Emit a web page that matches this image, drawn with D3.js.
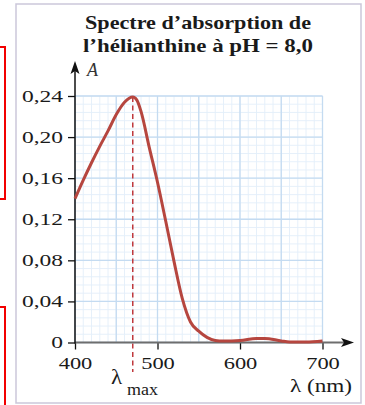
<!DOCTYPE html>
<html lang="fr">
<head>
    <meta charset="UTF-8">
    <title>Spectre d'absorption de l'hélianthine à pH = 8,0</title>
    <script src="https://d3js.org/d3.v7.min.js"></script>
    <style>
        body { margin: 0; background: #fff; }
        svg { display: block; font-family: "Liberation Serif", "Times New Roman", serif; }
    </style>
</head>
<body>
<svg id="chart" width="365" height="405"></svg>
<script>
    const wavelengths = [400, 410, 420, 430, 440, 450, 460, 470, 475, 480, 490, 500, 510, 520, 530, 540, 550, 560, 570, 580, 600, 620, 630, 650, 660, 680, 700];
    const absorbance = [0.140, 0.158, 0.175, 0.191, 0.206, 0.222, 0.234, 0.239, 0.236, 0.225, 0.190, 0.156, 0.118, 0.079, 0.043, 0.020, 0.011, 0.005, 0.002, 0.0015, 0.002, 0.004, 0.004, 0.0015, 0.0005, 0.0005, 0.0015];
    const xTicks = [400, 500, 600, 700];
    const yTicks = [0, 0.04, 0.08, 0.12, 0.16, 0.20, 0.24];
    const lambdaMax = 470;
    const titleLines = ["Spectre d’absorption de", "l’hélianthine à pH = 8,0"];

    const data = wavelengths.map((w, i) => ({ w: w, a: absorbance[i] }));

    const svg = d3.select("#chart");
    const x = d3.scaleLinear().domain([400, 700]).range([75, 322.5]);
    const y = d3.scaleLinear().domain([0, 0.24]).range([342.5, 96]);

    // stretch text horizontally (the original font is wider)
    function stretch(sel, k) {
        sel.each(function() {
            const len = this.getComputedTextLength();
            this.setAttribute("textLength", len * k);
            this.setAttribute("lengthAdjust", "spacingAndGlyphs");
        });
    }

    // red annotation frames on the left edge
    svg.append("rect").attr("x", -2).attr("y", 47).attr("width", 7).attr("height", 152)
        .attr("fill", "none").attr("stroke", "#f20000").attr("stroke-width", 2);
    svg.append("rect").attr("x", -2).attr("y", 307).attr("width", 7).attr("height", 110)
        .attr("fill", "none").attr("stroke", "#f20000").attr("stroke-width", 2);

    // cadre
    svg.append("rect").attr("x", 16).attr("y", 4).attr("width", 345).attr("height", 399)
        .attr("fill", "#fff").attr("stroke", "#cbc7da").attr("stroke-width", 1.5);

    // titre
    svg.selectAll(".title").data(titleLines).enter().append("text")
        .attr("class", "title")
        .attr("x", 198).attr("y", (d, i) => 28.5 + i * 23.5)
        .attr("text-anchor", "middle")
        .attr("font-size", 19).attr("font-weight", "bold").attr("fill", "#1a1a1a")
        .attr("textLength", (d, i) => i === 0 ? 226 : 230)
        .attr("lengthAdjust", "spacingAndGlyphs")
        .text(d => d);

    // grille
    const grid = svg.append("g");
    const minorX = d3.range(400, 701, 10);
    const minorY = d3.range(0, 31).map(i => i * 0.008);
    grid.selectAll(".mx").data(minorX).enter().append("line")
        .attr("x1", d => x(d)).attr("x2", d => x(d)).attr("y1", y(0)).attr("y2", y(0.24))
        .attr("stroke", "#e3eef9").attr("stroke-width", 0.9);
    grid.selectAll(".my").data(minorY).enter().append("line")
        .attr("x1", x(400)).attr("x2", x(700)).attr("y1", d => y(d)).attr("y2", d => y(d))
        .attr("stroke", "#e3eef9").attr("stroke-width", 0.9);
    grid.selectAll(".Mx").data(d3.range(400, 701, 50)).enter().append("line")
        .attr("x1", d => x(d)).attr("x2", d => x(d)).attr("y1", y(0)).attr("y2", y(0.24))
        .attr("stroke", "#c4dbf1").attr("stroke-width", 1.3);
    grid.selectAll(".My").data(yTicks).enter().append("line")
        .attr("x1", x(400)).attr("x2", x(700)).attr("y1", d => y(d)).attr("y2", d => y(d))
        .attr("stroke", "#c4dbf1").attr("stroke-width", 1.3);

    // lambda max en pointillés
    svg.append("line")
        .attr("x1", x(lambdaMax)).attr("x2", x(lambdaMax))
        .attr("y1", y(0.239)).attr("y2", 372)
        .attr("stroke", "#c0393d").attr("stroke-width", 1.5)
        .attr("stroke-dasharray", "5,3.5");

    // axe des abscisses
    const xAxis = svg.append("g")
        .attr("transform", `translate(0,${y(0)})`)
        .call(d3.axisBottom(x).tickValues(xTicks).tickSize(7).tickPadding(8));
    xAxis.select(".domain").remove();
    xAxis.selectAll(".tick line").attr("stroke", "#111").attr("stroke-width", 1.3);
    xAxis.selectAll(".tick text")
        .attr("y", 26.5).attr("dy", 0)
        .attr("font-family", "Liberation Serif, serif")
        .attr("font-size", 17).attr("fill", "#1a1a1a")
        .call(stretch, 1.32);
    svg.append("line")
        .attr("x1", x(400)).attr("x2", 346).attr("y1", y(0)).attr("y2", y(0))
        .attr("stroke", "#6e6e6e").attr("stroke-width", 2);
    svg.append("path")
        .attr("d", `M354,${y(0)} L341,${y(0) - 4.5} L344,${y(0)} L341,${y(0) + 4.5} Z`)
        .attr("fill", "#111");

    // axe des ordonnées
    const yAxis = svg.append("g")
        .attr("transform", `translate(${x(400)},0)`)
        .call(d3.axisLeft(y).tickValues(yTicks).tickSize(7).tickPadding(5)
            .tickFormat(d => d === 0 ? "0" : d3.format(".2f")(d).replace(".", ",")));
    yAxis.select(".domain").remove();
    yAxis.selectAll(".tick line").attr("stroke", "#111").attr("stroke-width", 1.3);
    yAxis.selectAll(".tick text")
        .attr("dy", "0.3em")
        .attr("font-family", "Liberation Serif, serif")
        .attr("font-size", 17).attr("fill", "#1a1a1a")
        .call(stretch, 1.38);
    svg.append("line")
        .attr("x1", x(400)).attr("x2", x(400)).attr("y1", y(0) + 1).attr("y2", 70)
        .attr("stroke", "#111").attr("stroke-width", 1.5);
    svg.append("path")
        .attr("d", `M${x(400)},61 L${x(400) - 4.5},74 L${x(400)},71 L${x(400) + 4.5},74 Z`)
        .attr("fill", "#111");

    // courbe
    const line = d3.line()
        .x(d => x(d.w))
        .y(d => y(d.a))
        .curve(d3.curveMonotoneX);
    svg.append("path")
        .datum(data)
        .attr("fill", "none")
        .attr("stroke", "#b6463f")
        .attr("stroke-width", 3)
        .attr("stroke-linejoin", "round")
        .attr("d", line);

    // libellés
    svg.append("text")
        .attr("x", 87).attr("y", 76)
        .attr("font-size", 18).attr("font-style", "italic").attr("fill", "#333")
        .text("A");

    svg.append("text")
        .attr("x", 111).attr("y", 384)
        .attr("font-size", 20).attr("fill", "#1a1a1a")
        .text("λ").call(stretch, 1.15);
    svg.append("text")
        .attr("x", 127).attr("y", 395)
        .attr("font-size", 16).attr("fill", "#1a1a1a")
        .attr("textLength", 31).attr("lengthAdjust", "spacingAndGlyphs")
        .text("max");

    svg.append("text")
        .attr("x", 352).attr("y", 392)
        .attr("text-anchor", "end")
        .attr("font-size", 18).attr("fill", "#1a1a1a")
        .attr("textLength", 62).attr("lengthAdjust", "spacingAndGlyphs")
        .text("λ (nm)");
</script>
</body>
</html>
